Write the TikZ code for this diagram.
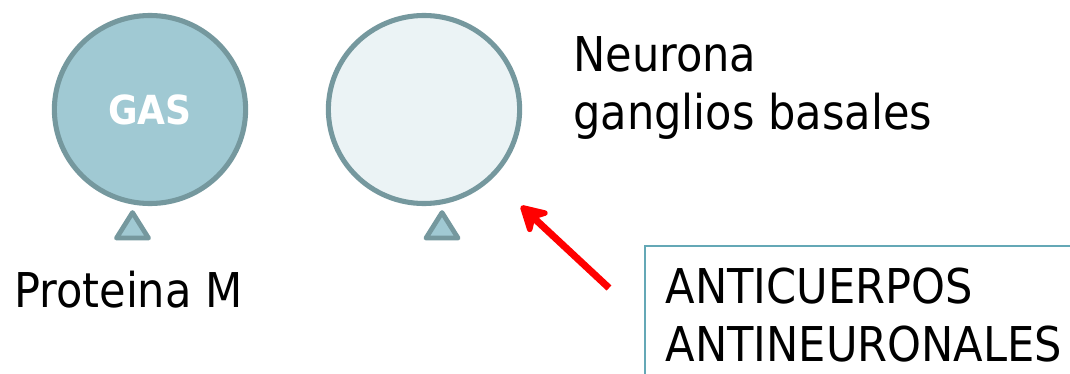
\documentclass[tikz,border=0pt]{standalone}
\usepackage{fontspec}
\setmainfont{DejaVu Sans Condensed}
\usetikzlibrary{arrows.meta,shapes.geometric,positioning,calc}
\definecolor{cellfill}{RGB}{160,201,211}
\definecolor{cellline}{RGB}{117,152,158}
\definecolor{palefill}{RGB}{235,243,245}
\definecolor{boxline}{RGB}{100,168,182}

\begin{document}
\begin{tikzpicture}[x=0.025cm, y=-0.025cm,
    cell/.style={ellipse, draw=cellline, line width=3.6pt, minimum width=4.78cm, minimum height=4.7cm, inner sep=0pt},
    stem/.style={draw=cellline, fill=cellfill, line width=3.4pt, line join=round},
    txt/.style={font=\fontsize{34.1pt}{41.2pt}\selectfont, inner sep=0pt, align=left},
    arrow/.style={red, line width=5pt, -{Stealth[length=0.8cm, width=0.9cm, inset=0.25cm, round]}}]
    \useasboundingbox (0,0) rectangle (1070,374);
    \clip (0,0) rectangle (1070,374);

    % Cells
    \node[cell, fill=cellfill, text=white, font=\fontsize{28.5pt}{34pt}\selectfont\bfseries] (gas) at (150,109.5) {GAS};
    \node[cell, fill=palefill] (neuron) at (424,109.5) {};

    % Stems under the cells
    \draw[stem] ($(gas.south)+(-17.5,6.5)$) -- ++(-16,25.5) -- ++(32,0) -- cycle;
    \draw[stem] ($(neuron.south)+(18,6.5)$) -- ++(-16,25.5) -- ++(32,0) -- cycle;

    % Labels
    \node[txt, anchor=base west] (protm) at (14,307) {Proteina M};
    \node[txt, anchor=north west] (neurlbl) at (573,36) {Neurona\\ganglios basales};
    \node[txt, draw=boxline, line width=1.5pt, anchor=north west, inner xsep=0.52cm, inner ysep=0.55cm] (anti) at (644,245) {ANTICUERPOS\\ANTINEURONALES};

    % Arrow
    \coordinate (tail) at (609,288);
    \coordinate (tip) at (521,206);
    \draw[arrow] (tail) -- (tip);
\end{tikzpicture}
\end{document}
